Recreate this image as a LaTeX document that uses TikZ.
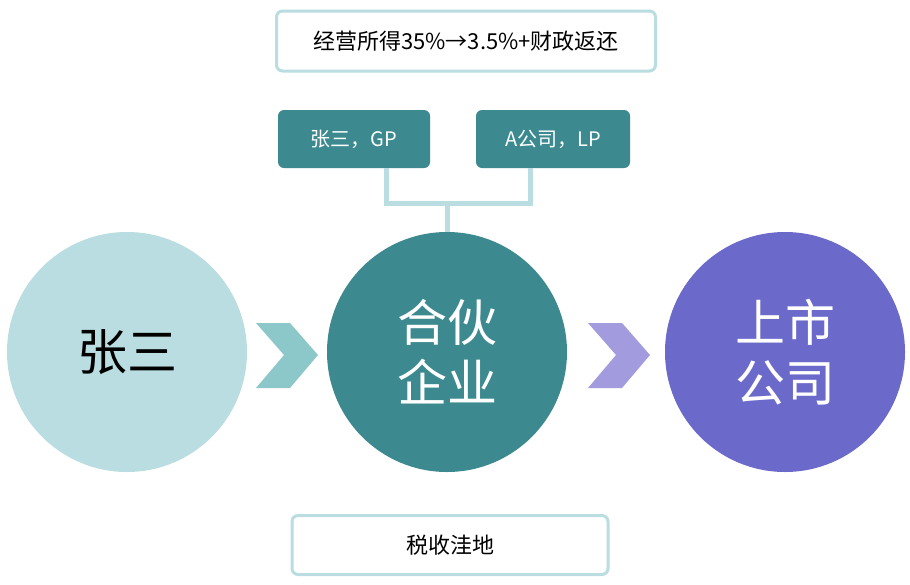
\documentclass[tikz,border=0pt]{standalone}
\usepackage{fontspec}
\setmainfont{Noto Sans CJK SC}
\begin{document}
\begin{tikzpicture}[x=1pt,y=-1pt,
  lbox/.style={draw=c1,line width=3pt,fill=white,rounded corners=6pt,inner sep=0pt},
  dbox/.style={fill=c2,rounded corners=6pt,text=white,font=\fontsize{20}{24}\selectfont},
  circ/.style={circle,minimum size=240pt,inner sep=0pt,align=center,font=\fontsize{50}{60}\selectfont}]
\definecolor{c1}{HTML}{B9DDE0}\definecolor{c2}{HTML}{3C8A8F}
\definecolor{c3}{HTML}{6B6ACB}\definecolor{ch1}{HTML}{8CC8CA}\definecolor{ch2}{HTML}{A29BDD}
\useasboundingbox (0,0) rectangle (910,584);
\node[lbox,minimum width=379pt,minimum height=60pt,font=\fontsize{22}{26}\selectfont] (top) at (466,41) {经营所得35\%→3.5\%+财政返还};
\node[dbox,minimum width=152pt,minimum height=58pt] (gp) at (354,139) {张三，GP};
\node[dbox,minimum width=154pt,minimum height=58pt] (lp) at (553,139) {A公司，LP};
\node[circ,fill=c1,text=black] (z) at (127,352) {张三};
\node[circ,fill=c2,text=white] (h) at (447,352) {合伙\\企业};
\node[circ,fill=c3,text=white] (s) at (785,352) {上市\\公司};
\node[lbox,minimum width=316pt,minimum height=59pt,font=\fontsize{22}{26}\selectfont] (b) at (450,545) {税收洼地};
\coordinate (m) at (447,203);
\draw[c1,line width=5pt] (386,168) |- (m) -| (530,168);
\draw[c1,line width=5pt] (m) -- (h.north);
\fill[ch1] (256,323) -- (290,323) -- (318,355) -- (290,388) -- (256,388) -- (284,355) -- cycle;
\fill[ch2] (588,323) -- (622,323) -- (650,355) -- (622,388) -- (588,388) -- (616,355) -- cycle;
\end{tikzpicture}
\end{document}
